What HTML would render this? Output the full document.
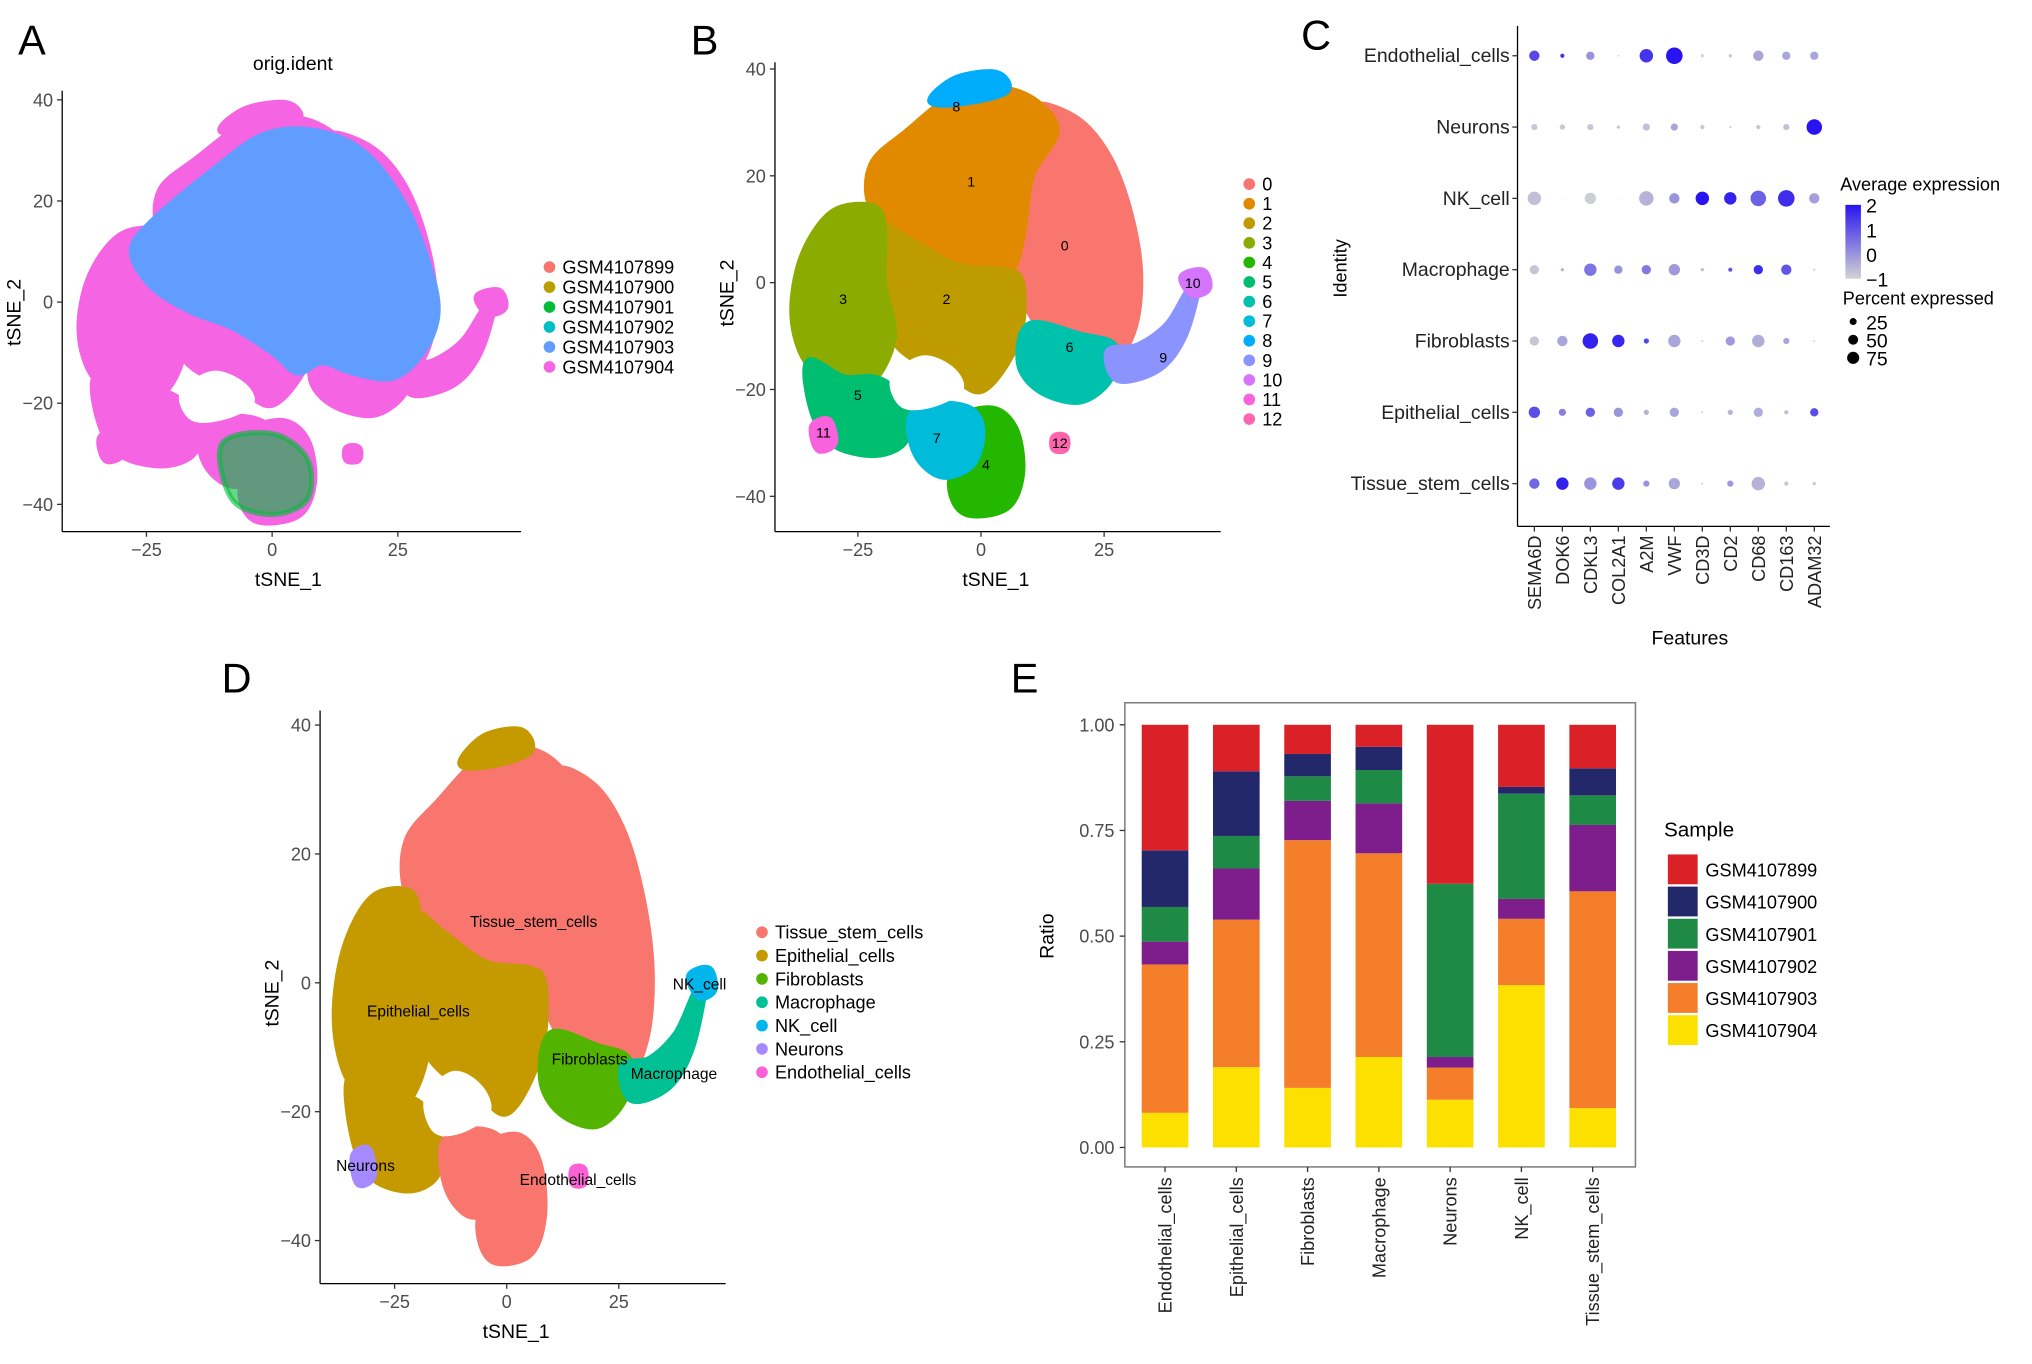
<!DOCTYPE html>
<html><head><meta charset="utf-8"><style>
html,body{margin:0;padding:0;background:#fff}
svg{display:block;font-family:"Liberation Sans",sans-serif}
</style></head><body>
<svg id="fig" xmlns="http://www.w3.org/2000/svg" width="2032" height="1364" viewBox="0 0 1568 1052" preserveAspectRatio="none">
<rect x="0" y="0" width="1568" height="1052" fill="#fff"/>
<g font-size="32" fill="#000">
<text x="14" y="42">A</text>
<text x="533" y="42">B</text>
<text x="1004" y="38">C</text>
<text x="171" y="534">D</text>
<text x="780" y="534">E</text>
</g>
</svg>
<script>
// ---------- data ----------
const clusterIds = ["0","1","2","3","4","5","6","7","8","9","10","11","12"];
const clusterColors = ["#F8766D","#E18A00","#BE9C00","#8CAB00","#24B700","#00BE70","#00C1AB","#00BBDA","#00ACFC","#8B93FF","#D575FE","#F962DD","#FF65AC"];
const clusterShapes = [
 [[12,33],[20,30],[26,23],[30,13],[32,2],[31,-8],[27,-14],[20,-12],[12,-8],[8,0],[8,8],[10,20],[13,28]],
 [[-22,22],[-15,28],[-5,35],[5,36],[12,33],[15,28],[10,20],[8,8],[5,2],[-5,3],[-15,8],[-22,14]],
 [[-20,10],[-15,8],[-5,3],[5,2],[8,0],[8,-8],[5,-15],[0,-20],[-5,-18],[-12,-15],[-18,-10],[-20,0]],
 [[-36,5],[-30,13],[-22,14],[-20,10],[-20,0],[-18,-10],[-22,-18],[-28,-18],[-35,-15],[-38,-6]],
 [[-3,-25],[3,-24],[7,-28],[8,-36],[5,-42],[-3,-43],[-6,-38],[-4,-30]],
 [[-35,-15],[-28,-18],[-22,-18],[-18,-20],[-15,-25],[-16,-30],[-22,-32],[-30,-30],[-34,-24]],
 [[10,-8],[20,-10],[27,-12],[26,-18],[20,-22],[12,-20],[8,-15]],
 [[-14,-25],[-8,-23],[-2,-24],[0,-28],[-2,-34],[-8,-36],[-13,-32]],
 [[-10,34],[-5,38],[3,39],[5,36],[-3,34]],
 [[26,-13],[32,-12],[38,-8],[42,-2],[44,0],[41,-10],[36,-16],[28,-18]],
 [[41,1],[45,2],[46,-1],[43,-2]],
 [[-34,-27],[-31,-26],[-30,-30],[-33,-31]],
 [[15,-29],[17,-29],[17,-31],[15,-31]]
];
const clusterLabelPos = [[17,7],[-2,19],[-7,-3],[-28,-3],[1,-34],[-25,-21],[18,-12],[-9,-29],[-5,33],[37,-14],[43,0],[-32,-28],[16,-30]];
const holeShape = [[-18,-18],[-12,-14],[-6,-16],[-4,-20],[-10,-23],[-16,-23]];

const sampleNames = ["GSM4107899","GSM4107900","GSM4107901","GSM4107902","GSM4107903","GSM4107904"];
const sampleHue = ["#F8766D","#B79F00","#00BA38","#00BFC4","#619CFF","#F564E3"];
const sampleBlueShape = [[-24,16],[-12,26],[-2,33],[8,34],[18,30],[26,20],[31,8],[33,-2],[30,-10],[24,-15],[16,-14],[10,-12],[5,-14],[0,-10],[-8,-5],[-16,-2],[-24,3],[-28,10]];
const sampleGreenShape = [[-10,-28],[0,-26],[7,-31],[7,-39],[0,-42],[-8,-39]];

const cellTypes = ["Tissue_stem_cells","Epithelial_cells","Fibroblasts","Macrophage","NK_cell","Neurons","Endothelial_cells"];
const cellColors = ["#F8766D","#C49A00","#53B400","#00C094","#00B6EB","#A58AFF","#FB61D7"];
const clusterToCell = [0,0,1,1,0,1,2,0,1,3,4,5,6];
const cellLabelPos = [[6,9.5],[-19.7,-4.4],[18.5,-11.9],[37.3,-14.1],[43,-0.2],[-31.5,-28.4],[15.9,-30.6]];

const dotRows = ["Endothelial_cells","Neurons","NK_cell","Macrophage","Fibroblasts","Epithelial_cells","Tissue_stem_cells"];
const dotCols = ["SEMA6D","DOK6","CDKL3","COL2A1","A2M","VWF","CD3D","CD2","CD68","CD163","ADAM32"];
const dotPct = [
 [31,5,20,1,52,79,3,3,31,20,20],
 [11,8,11,3,15,15,5,1,5,11,69],
 [52,0.3,37,0.3,60,31,52,44,69,79,31],
 [25,3,44,20,25,37,3,5,25,31,1],
 [25,31,69,44,8,44,1,25,44,11,1],
 [37,15,25,25,8,25,1,8,25,5,20],
 [31,44,44,44,11,37,1,11,52,5,3]
];
const dotExpr = [
 [1.2,1.5,0,-1,1.5,2,-1,-0.8,-0.3,-0.3,-0.3],
 [-0.8,-0.8,-0.8,-0.8,-0.7,-0.3,-0.8,-0.8,-0.8,-0.7,2],
 [-0.7,-1,-0.9,-1,-0.5,0,2,1.8,0.8,1.6,-0.2],
 [-0.8,-0.5,0.5,0,0.4,-0.1,-0.6,1.0,1.6,1.0,-0.8],
 [-0.8,-0.3,1.8,1.7,1.2,-0.3,-0.8,-0.1,-0.4,-0.3,-0.8],
 [1.1,0.3,0.8,0,-0.5,-0.3,-0.8,-0.5,-0.4,-0.6,1.1],
 [0.7,1.8,0,1.4,0,-0.3,-0.8,-0.1,-0.5,-0.8,-0.8]
];
const exprTicks = [2,1,0,-1];
const pctTicks = [25,50,75];

const barCats = ["Endothelial_cells","Epithelial_cells","Fibroblasts","Macrophage","Neurons","NK_cell","Tissue_stem_cells"];
const barSamples = ["GSM4107899","GSM4107900","GSM4107901","GSM4107902","GSM4107903","GSM4107904"];
const barColors = ["#DA2128","#23286B","#1F8A45","#7E1E8C","#F47E2A","#FBE000"];
const r904 = [0.082,0.19,0.141,0.214,0.113,0.384,0.093];
const r903 = [0.351,0.349,0.586,0.482,0.076,0.157,0.513];
const r902 = [0.054,0.121,0.093,0.118,0.025,0.047,0.157];
const r901 = [0.082,0.077,0.058,0.079,0.41,0.249,0.07];
const r900 = [0.134,0.153,0.053,0.055,0,0.016,0.064];
const r899 = [0.297,0.11,0.069,0.052,0.376,0.147,0.103];
const ratioTicks = ["0.00","0.25","0.50","0.75","1.00"];

// ---------- helpers ----------
const NS="http://www.w3.org/2000/svg";
const svg=document.getElementById('fig');
function mk(tag,attrs,parent){const e=document.createElementNS(NS,tag);for(const k in attrs)e.setAttribute(k,attrs[k]);(parent||svg).appendChild(e);return e;}
function txt(s,attrs,parent){const e=mk('text',attrs,parent);e.textContent=s;return e;}

function tsnePanel(id){
  const g=mk('g',{});
  
  
  return g;
}
function smoothPath(pts){
  const n=pts.length;let d='M'+pts[0][0].toFixed(1)+','+pts[0][1].toFixed(1);
  for(let i=0;i<n;i++){
    const p0=pts[(i-1+n)%n],p1=pts[i],p2=pts[(i+1)%n],p3=pts[(i+2)%n];
    const c1=[p1[0]+(p2[0]-p0[0])/6,p1[1]+(p2[1]-p0[1])/6];
    const c2=[p2[0]-(p3[0]-p1[0])/6,p2[1]-(p3[1]-p1[1])/6];
    d+=`C${c1[0].toFixed(1)},${c1[1].toFixed(1)} ${c2[0].toFixed(1)},${c2[1].toFixed(1)} ${p2[0].toFixed(1)},${p2[1].toFixed(1)}`;
  }
  return d+'Z';
}
function poly(g,shape,cfg,color,sw){
  const pts=shape.map(p=>[cfg.xs(p[0]),cfg.ys(p[1])]);
  return mk('path',{d:smoothPath(pts),fill:color,stroke:color,'stroke-width':sw||7,'stroke-linejoin':'round'},g);
}
function axes(g,cfg,id){
  const ax=mk('g',{},g);
  
  
  mk('line',{x1:cfg.left,y1:cfg.top,x2:cfg.left,y2:cfg.bottom,stroke:'#000','stroke-width':1},ax);
  mk('line',{x1:cfg.left,y1:cfg.bottom,x2:cfg.right,y2:cfg.bottom,stroke:'#000','stroke-width':1},ax);
  [-25,0,25].forEach(v=>{const x=cfg.xs(v);
    mk('line',{x1:x,y1:cfg.bottom,x2:x,y2:cfg.bottom+4,stroke:'#333'},ax);
    const t=txt(v===0?'0':(v<0?'−25':'25'),{x:x,y:cfg.bottom+19,'text-anchor':'middle','font-size':14,fill:'#4d4d4d'},ax);
    
    
  });
  [-40,-20,0,20,40].forEach(v=>{const y=cfg.ys(v);
    mk('line',{x1:cfg.left-4,y1:y,x2:cfg.left,y2:y,stroke:'#333'},ax);
    const t=txt(v<0?'−'+(-v):String(v),{x:cfg.left-7,y:y+5,'text-anchor':'end','font-size':14,fill:'#4d4d4d'},ax);
    
    
  });
  const xt=txt('tSNE_1',{x:(cfg.xs(0)+cfg.xs(25))/2-36,y:cfg.bottom+42,'text-anchor':'middle','font-size':15},ax);
  
  
  const yt=txt('tSNE_2',{x:0,y:0,'text-anchor':'middle','font-size':15,transform:`translate(${cfg.left-32},${cfg.ys(0)+8}) rotate(-90)`},ax);
  
  
}
function legend(g,names,colors,x,y0,step,id){
  const lg=mk('g',{},g);
  
  
  names.forEach((n,i)=>{const y=y0+i*step;
    const e=mk('g',{},lg);
    
    
    mk('circle',{cx:x,cy:y,r:4.5,fill:colors[i]},e);
    txt(n,{x:x+10,y:y+5,'font-size':14},e);
  });
}

// ---------- Panel A ----------
(function(){
 const cfg={xs:v=>210+v*3.88,ys:v=>233-v*3.9,left:48,right:402,top:70,bottom:410};
 const g=tsnePanel('a');
 clusterShapes.forEach(s=>{const p=poly(g,s,cfg,sampleHue[5]);});
 const b=poly(g,sampleBlueShape,cfg,sampleHue[4],4);
 
 
 const gr=poly(g,sampleGreenShape,cfg,sampleHue[2],4);
 
 
 gr.setAttribute('fill-opacity',0.6);
 gr.setAttribute('stroke-opacity',0.6);
 const h=poly(g,holeShape,cfg,'#fff',3);
 
 
 axes(g,cfg,'a');
 const t=txt('orig.ident',{x:226,y:54,'text-anchor':'middle','font-size':15},g);
 
 
 legend(g,sampleNames,sampleHue,424,206,15.4,'a');
})();

// ---------- Panel B ----------
(function(){
 const cfg={xs:v=>757+v*3.8,ys:v=>218-v*4.12,left:598,right:942,top:48,bottom:410};
 const g=tsnePanel('b');
 clusterShapes.forEach((s,i)=>{const p=poly(g,s,cfg,clusterColors[i]);});
 const h=poly(g,holeShape,cfg,'#fff',3);
 
 
 clusterLabelPos.forEach((p,i)=>{const t=txt(clusterIds[i],{x:cfg.xs(p[0]),y:cfg.ys(p[1])+4,'text-anchor':'middle','font-size':11},g);
   
   });
 axes(g,cfg,'b');
 legend(g,clusterIds,clusterColors,964,142,15.1,'b');
})();

// ---------- Panel D ----------
(function(){
 const cfg={xs:v=>391+v*3.46,ys:v=>758-v*4.97,left:247,right:560,top:548,bottom:990};
 const g=tsnePanel('d');
 clusterShapes.forEach((s,i)=>{const p=poly(g,s,cfg,cellColors[clusterToCell[i]]);});
 const h=poly(g,holeShape,cfg,'#fff',3);
 
 
 cellLabelPos.forEach((p,i)=>{const t=txt(cellTypes[i],{x:cfg.xs(p[0]),y:cfg.ys(p[1])+4,'text-anchor':'middle','font-size':12},g);
   
   });
 axes(g,cfg,'d');
 legend(g,cellTypes,cellColors,588,719,18,'d');
})();

// ---------- Panel C (dot plot) ----------
(function(){
 const g=mk('g',{});
 
 
 const cx=i=>1184+i*21.6, ry=j=>43+j*55;
 const rad=p=>Math.sqrt(p)*0.72;
 const col=e=>{const t=Math.max(0,Math.min(1,(e+1)/3));const r=Math.round(211*(1-t)+40*t),gg=Math.round(211*(1-t)+20*t),b=Math.round(211+(240-211)*t);return `rgb(${r},${gg},${b})`;};
 mk('line',{x1:1171,y1:20,x2:1171,y2:406,stroke:'#000'},g);
 mk('line',{x1:1171,y1:406,x2:1412,y2:406,stroke:'#000'},g);
 dotRows.forEach((n,j)=>{const y=ry(j);
   mk('line',{x1:1167,y1:y,x2:1171,y2:y,stroke:'#333'},g);
   const t=txt(n,{x:1165,y:y+5,'text-anchor':'end','font-size':15,fill:'#222'},g);
   
   
   dotCols.forEach((c,i)=>{const d=mk('circle',{cx:cx(i),cy:y,r:rad(dotPct[j][i]),fill:col(dotExpr[j][i])},g);
     
     });
 });
 dotCols.forEach((c,i)=>{const x=cx(i);
   mk('line',{x1:x,y1:406,x2:x,y2:410,stroke:'#333'},g);
   const t=txt(c,{x:0,y:0,'text-anchor':'end','font-size':14,fill:'#222',transform:`translate(${x+5},${413}) rotate(-90)`},g);
   
   });
 const ft=txt('Features',{x:1304,y:497,'text-anchor':'middle','font-size':15},g);
 
 
 const it=txt('Identity',{x:0,y:0,'text-anchor':'middle','font-size':14,transform:'translate(1039,207) rotate(-90)'},g);
 
 
 const lg=mk('g',{},g);
 
 
 txt('Average expression',{x:1420,y:147,'font-size':14},lg);
 const defs=mk('defs',{},lg);
 const grad=mk('linearGradient',{id:'eg',x1:0,y1:1,x2:0,y2:0},defs);
 mk('stop',{offset:'0',"stop-color":col(-1)},grad);
 mk('stop',{offset:'0.5',"stop-color":col(0.5)},grad);
 mk('stop',{offset:'1',"stop-color":col(2)},grad);
 const ey=e=>215-(e+1)*19;
 mk('rect',{x:1424,y:ey(2),width:12,height:ey(-1)-ey(2),fill:'url(#eg)'},lg);
 exprTicks.forEach(e=>{txt(e<0?'−'+(-e):String(e),{x:1440,y:ey(e)+6,'font-size':15},lg);});
 txt('Percent expressed',{x:1422,y:235,'font-size':14},lg);
 pctTicks.forEach((p,i)=>{const y=248+i*14;mk('circle',{cx:1430,cy:y,r:rad(p)*0.75,fill:'#000'},lg);txt(String(p),{x:1440,y:y+6,'font-size':15},lg);});
})();

// ---------- Panel E (stacked bars) ----------
(function(){
 const g=mk('g',{});
 
 
 const y=v=>885-v*326, x=i=>899+i*55, bw=36;
 mk('rect',{x:868,y:542,width:394,height:358,fill:'none',stroke:'#7f7f7f','stroke-width':1.2},g);
 const layers=[r904,r903,r902,r901,r900,r899];
 const layerCol=[barColors[5],barColors[4],barColors[3],barColors[2],barColors[1],barColors[0]];
 const layerName=[barSamples[5],barSamples[4],barSamples[3],barSamples[2],barSamples[1],barSamples[0]];
 barCats.forEach((c,i)=>{let cum=0;
   layers.forEach((L,k)=>{const v=L[i];
     const r=mk('rect',{x:x(i)-bw/2,y:y(cum+v),width:bw,height:Math.max(0,y(cum)-y(cum+v)),fill:layerCol[k]},g);
     
     
     cum+=v;});
   mk('line',{x1:x(i),y1:900,x2:x(i),y2:904,stroke:'#333'},g);
   const t=txt(c,{x:0,y:0,'text-anchor':'end','font-size':14,fill:'#222',transform:`translate(${x(i)+5},908) rotate(-90)`},g);
   
   
 });
 ratioTicks.forEach((s,k)=>{const yy=y(k*0.25);
   mk('line',{x1:864,y1:yy,x2:868,y2:yy,stroke:'#333'},g);
   const t=txt(s,{x:860,y:yy+5,'text-anchor':'end','font-size':14,fill:'#4d4d4d'},g);
   
   });
 const yt=txt('Ratio',{x:0,y:0,'text-anchor':'middle','font-size':15,transform:'translate(813,722) rotate(-90)'},g);
 
 
 const lg=mk('g',{},g);
 
 
 txt('Sample',{x:1284,y:645,'font-size':16},lg);
 barSamples.forEach((s,i)=>{const yy=671+i*24.8;
   const e=mk('g',{},lg);
   
   
   mk('rect',{x:1287,y:yy-12,width:23,height:23,fill:barColors[i]},e);
   txt(s,{x:1316,y:yy+5,'font-size':14},e);});
})();
</script>
</body></html>
